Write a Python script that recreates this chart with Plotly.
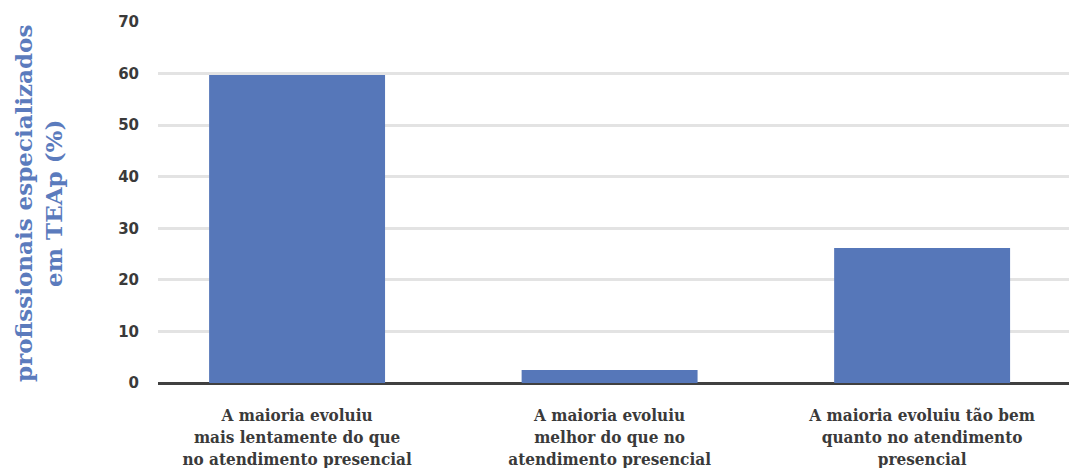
import plotly.graph_objects as go

categories = [
    "A maioria evoluiu<br>mais lentamente do que<br>no atendimento presencial",
    "A maioria evoluiu<br>melhor do que no<br>atendimento presencial",
    "A maioria evoluiu tão bem<br>quanto no atendimento<br>presencial",
]
values = [59.7, 2.5, 26.2]
y_ticks = [0, 10, 20, 30, 40, 50, 60, 70]

BAR_COLOR = "#5677b9"
TEXT_DARK = "#3a3a3a"
TITLE_BLUE = "#5b7bbd"

fig = go.Figure(
    go.Bar(
        x=list(range(len(categories))),
        y=values,
        marker=dict(color=BAR_COLOR, line=dict(width=0)),
        width=0.563,
        hoverinfo="skip",
    )
)

fig.update_layout(
    width=1069,
    height=468,
    margin=dict(l=158, r=0, t=22, b=85),
    paper_bgcolor="white",
    plot_bgcolor="white",
    showlegend=False,
    xaxis=dict(
        range=[-0.445, 2.47],
        tickmode="array",
        tickvals=list(range(len(categories))),
        ticktext=categories,
        tickfont=dict(family="DejaVu Serif Condensed", size=17, color=TEXT_DARK, weight="bold"),
        showgrid=False,
        showline=False,
        zeroline=False,
        ticks="",
        ticklabelstandoff=20,
        fixedrange=True,
    ),
    yaxis=dict(
        range=[0, 70],
        tickmode="array",
        tickvals=y_ticks,
        tickfont=dict(family="DejaVu Sans", size=15, color=TEXT_DARK, weight="bold"),
        showgrid=True,
        gridcolor="#e3e3e3",
        gridwidth=2.5,
        zeroline=True,
        zerolinecolor="#404040",
        zerolinewidth=3,
        showline=False,
        ticks="",
        ticklabelstandoff=18,
        fixedrange=True,
    ),
    annotations=[
        dict(
            text="profissionais especializados<br>em TEAp (%)",
            xref="paper",
            yref="paper",
            x=(39 - 158) / 911,
            y=0.496,
            xanchor="center",
            yanchor="middle",
            textangle=-90,
            showarrow=False,
            font=dict(family="DejaVu Serif", size=23, color=TITLE_BLUE, weight="bold"),
        )
    ],
)

fig.write_html("out.html")
